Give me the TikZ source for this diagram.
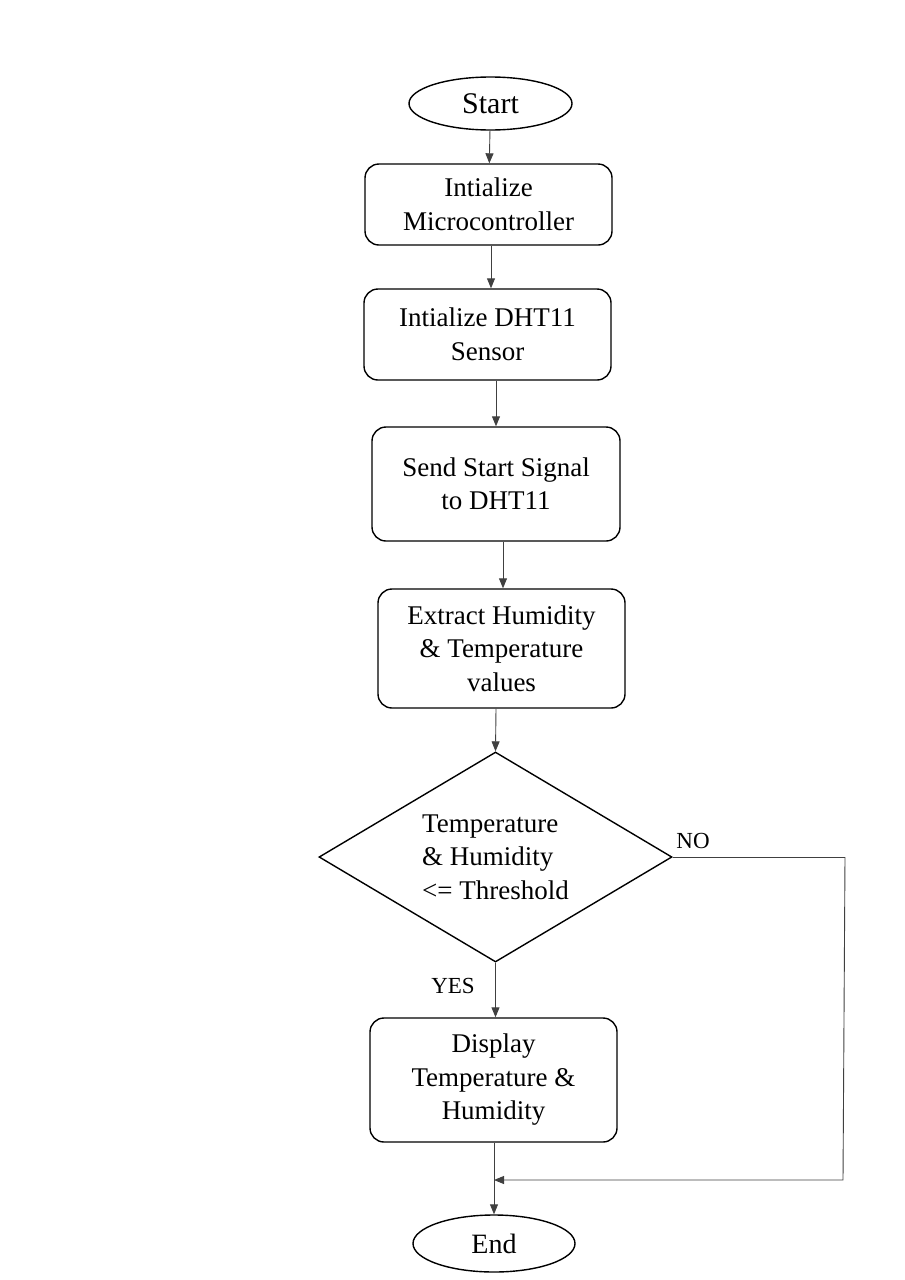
\documentclass[tikz,border=0pt]{standalone}
\usepackage{fontspec}
\setmainfont{Liberation Serif}
\usetikzlibrary{positioning}
\usetikzlibrary{arrows.meta, shapes.geometric}

\tikzset{
  terminal/.style={draw, ellipse, line width=1.4pt, inner sep=0pt},
  process/.style={draw, rectangle, rounded corners=14pt, line width=1.4pt, align=center, inner sep=0pt},
  decision/.style={draw, diamond, aspect=1.68, line width=1.4pt, align=left, inner sep=0pt, minimum width=353pt, minimum height=210pt},
  flow/.style={draw=black!75, line width=0.9pt, -{Triangle[length=10pt,width=8pt]}},
  flowline/.style={draw=black!75, line width=0.9pt},
  tag/.style={font=\fontsize{23}{27}\selectfont}
}

\begin{document}
\begin{tikzpicture}[x=1pt, y=-1pt, every node/.style={font=\fontsize{27}{33.5}\selectfont}]

\useasboundingbox (0,0) rectangle (905,1280);

% terminals
\node[terminal, minimum width=163pt, minimum height=53pt, font=\fontsize{30}{34}\selectfont] (start) at (490.5,103.5) {Start};
\node[terminal, minimum width=162pt, minimum height=57pt, font=\fontsize{28}{34}\selectfont] (end) at (494,1243.5) {End};

% process steps
\node[process, minimum width=247pt, minimum height=81pt] (init) at (488.5,204.5) {Intialize\\Microcontroller};
\node[process, minimum width=247pt, minimum height=91pt] (dht) at (487.5,334.5) {Intialize DHT11\\Sensor};
\node[process, minimum width=248pt, minimum height=114pt] (send) at (496,484) {Send Start Signal\\to DHT11};
\node[process, minimum width=247pt, minimum height=119pt] (extract) at (501.5,648.5) {Extract Humidity\\\& Temperature\\values};

% check
\node[decision] (check) at (495.5,857) {Temperature\\\& Humidity\\<= Threshold};

\node[process, minimum width=247pt, minimum height=124pt] (disp) at (493.5,1080) {Display\\Temperature \&\\Humidity};

% labels
\node[tag] (no) at (693,841) {NO};
\node[tag] (yes) at (453,986) {YES};

% connectors
\draw[flow] (start) -- (init);
\draw[flow] (init.south -| 491,0) -- (dht.north -| 491,0);
\draw[flow] (dht.south -| 496,0) -- (send.north -| 496,0);
\draw[flow] (send.south -| 503,0) -- (extract.north -| 503,0);
\draw[flow] (extract.south -| 496,0) -- (check.north);
\draw[flow] (check.south) -- (disp.north -| check.south);
\draw[flow] (disp.south -| 494,0) -- (end.north -| 494,0);

\coordinate (turn) at (845,857);
\coordinate (merge) at (494,1180);
\draw[flowline] (check.east) -- (turn);
\draw[flow] (turn) -- (843,1180) -- (merge);

\end{tikzpicture}
\end{document}
